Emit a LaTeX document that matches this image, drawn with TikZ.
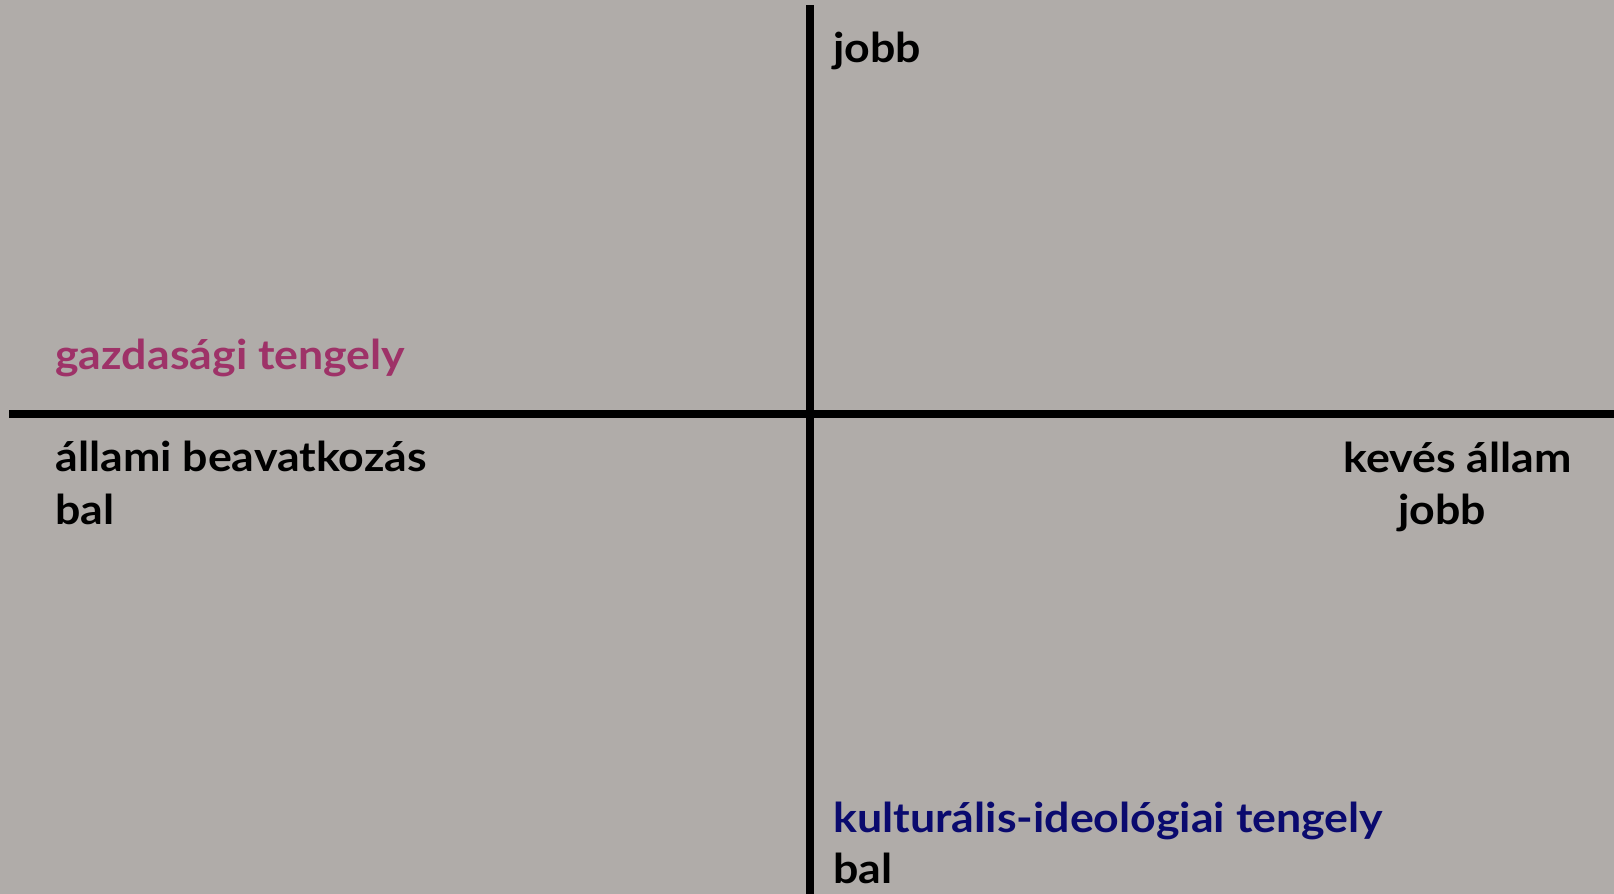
\documentclass[tikz,border=0pt]{standalone}
\usepackage{fontspec}
\setmainfont{Lato}
\newfontfamily\lblfont{Lato}[FakeStretch=1.09]
\definecolor{bg}{RGB}{176,172,169}
\definecolor{magentaaxis}{RGB}{158,50,104}
\definecolor{navyaxis}{RGB}{10,10,110}
\begin{document}
\begin{tikzpicture}[x=0.5pt,y=-0.5pt,
  axisline/.style={line width=4pt,black},
  lbl/.style={anchor=base west,inner sep=0pt,font=\lblfont\fontsize{20.5}{24}\selectfont\bfseries,text=black}]
\fill[bg] (0,0) rectangle (1614,894);
\useasboundingbox (0,0) rectangle (1614,894);
\coordinate (vtop) at (810,5);
\coordinate (vbot) at (810,894);
\coordinate (hleft) at (9,413.5);
\coordinate (hright) at (1614,413.5);
\draw[axisline] (vtop) -- (vbot);
\draw[axisline] (hleft) -- (hright);
\node[lbl] (jobbtop) at (833,62) {jobb};
\node[lbl,text=magentaaxis] (gazd) at (55,369) {gazdasági tengely};
\node[lbl] (allami) at (55,471) {állami beavatkozás};
\node[lbl] (balleft) at (55,524) {bal};
\node[lbl] (keves) at (1343,472) {kevés állam};
\node[lbl] (jobbright) at (1398,524) {jobb};
\node[lbl,text=navyaxis] (kult) at (833,832) {kulturális-ideológiai tengely};
\node[lbl] (balbot) at (833,883) {bal};
\end{tikzpicture}
\end{document}
